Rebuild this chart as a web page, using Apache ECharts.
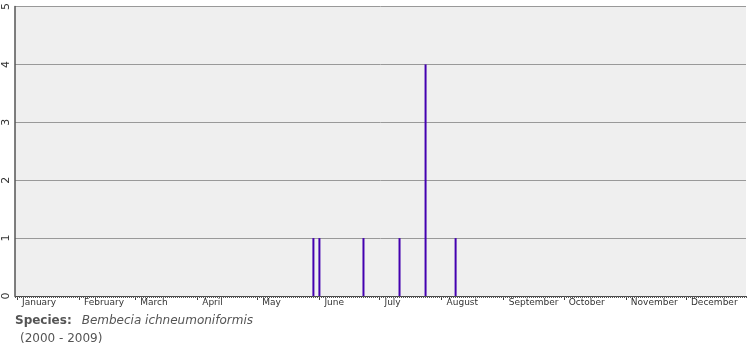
<!DOCTYPE html>
<html>
<head>
<meta charset="utf-8">
<script src="https://cdn.jsdelivr.net/npm/echarts@6/dist/echarts.min.js"></script>
<style>
  html, body { margin: 0; padding: 0; background: #fff; }
  #chart { width: 755px; height: 350px; }
</style>
</head>
<body>
<div id="chart"></div>
<script>
// day of year for each record and number of records that day
var recordDays = [149, 152, 174, 192, 205, 220];
var recordCounts = [1, 1, 1, 1, 4, 1];

// month names and the day of year where each month starts
var monthNames = ['January', 'February', 'March', 'April', 'May', 'June',
    'July', 'August', 'September', 'October', 'November', 'December'];
var monthStarts = [1, 32, 60, 91, 121, 152, 182, 213, 244, 274, 305, 335];

var yTicks = [0, 1, 2, 3, 4, 5];

var speciesName = 'Bembecia ichneumoniformis';
var yearRange = '(2000 - 2009)';

function buildData() {
    var aData = [];
    for (var i = 0; i < recordDays.length; i++) {
        aData.push([recordDays[i], recordCounts[i]]);
    }
    return aData;
}

var labelFont = 'DejaVu Sans';

var option = {
    animation: false,
    backgroundColor: '#ffffff',
    title: {
        left: 10,
        top: 307,
        padding: 5,
        text: '{b|Species:}  {i|' + speciesName + '}\n {n|' + yearRange + '}',
        textStyle: {
            fontWeight: 'normal',
            rich: {
                b: { fontFamily: labelFont, fontSize: 12, fontWeight: 'bold', color: '#555', lineHeight: 15 },
                i: { fontFamily: labelFont, fontSize: 12, fontWeight: 'normal', fontStyle: 'italic', color: '#555', lineHeight: 15 },
                n: { fontFamily: labelFont, fontSize: 12, fontWeight: 'normal', color: '#555', lineHeight: 15 }
            }
        }
    },
    grid: {
        left: 15, right: 9, top: 5, bottom: 54,
        show: true,
        backgroundColor: '#efefef',
        borderWidth: 0
    },
    xAxis: [
        {   // month ticks and labels
            type: 'value',
            min: 0, max: 365,
            position: 'bottom',
            splitLine: { show: false },
            axisLine: { show: true, lineStyle: { color: '#444', width: 1 } },
            axisTick: {
                show: true,
                customValues: monthStarts,
                length: 4,
                lineStyle: { color: '#444' }
            },
            axisLabel: {
                show: true,
                customValues: monthStarts,
                align: 'left',
                margin: 2,
                padding: [0, 0, 0, 5],
                fontFamily: labelFont,
                fontSize: 9,
                color: '#333',
                formatter: function (v) {
                    var k = monthStarts.indexOf(v);
                    return k >= 0 ? monthNames[k] : '';
                }
            }
        },
        {   // one small tick per day
            type: 'value',
            min: 0, max: 365,
            interval: 1,
            position: 'bottom',
            splitLine: { show: false },
            axisLine: { show: false },
            axisTick: { show: true, length: 2, lineStyle: { color: '#555' } },
            axisLabel: { show: false }
        }
    ],
    yAxis: {
        type: 'value',
        min: yTicks[0], max: yTicks[yTicks.length - 1],
        interval: 1,
        axisLine: { show: true, lineStyle: { color: '#555', width: 1.5 } },
        axisTick: { show: false },
        splitLine: { show: true, lineStyle: { color: '#999', width: 1 } },
        axisLabel: {
            rotate: 90,
            margin: 3,
            fontFamily: labelFont,
            fontSize: 11,
            color: '#333'
        }
    },
    series: [
        {
            type: 'bar',
            xAxisIndex: 0,
            barWidth: 2,
            data: buildData(),
            itemStyle: { color: '#4400b0' }
        }
    ]
};

var myChart = echarts.init(document.getElementById('chart'));
myChart.setOption(option);
</script>
</body>
</html>
